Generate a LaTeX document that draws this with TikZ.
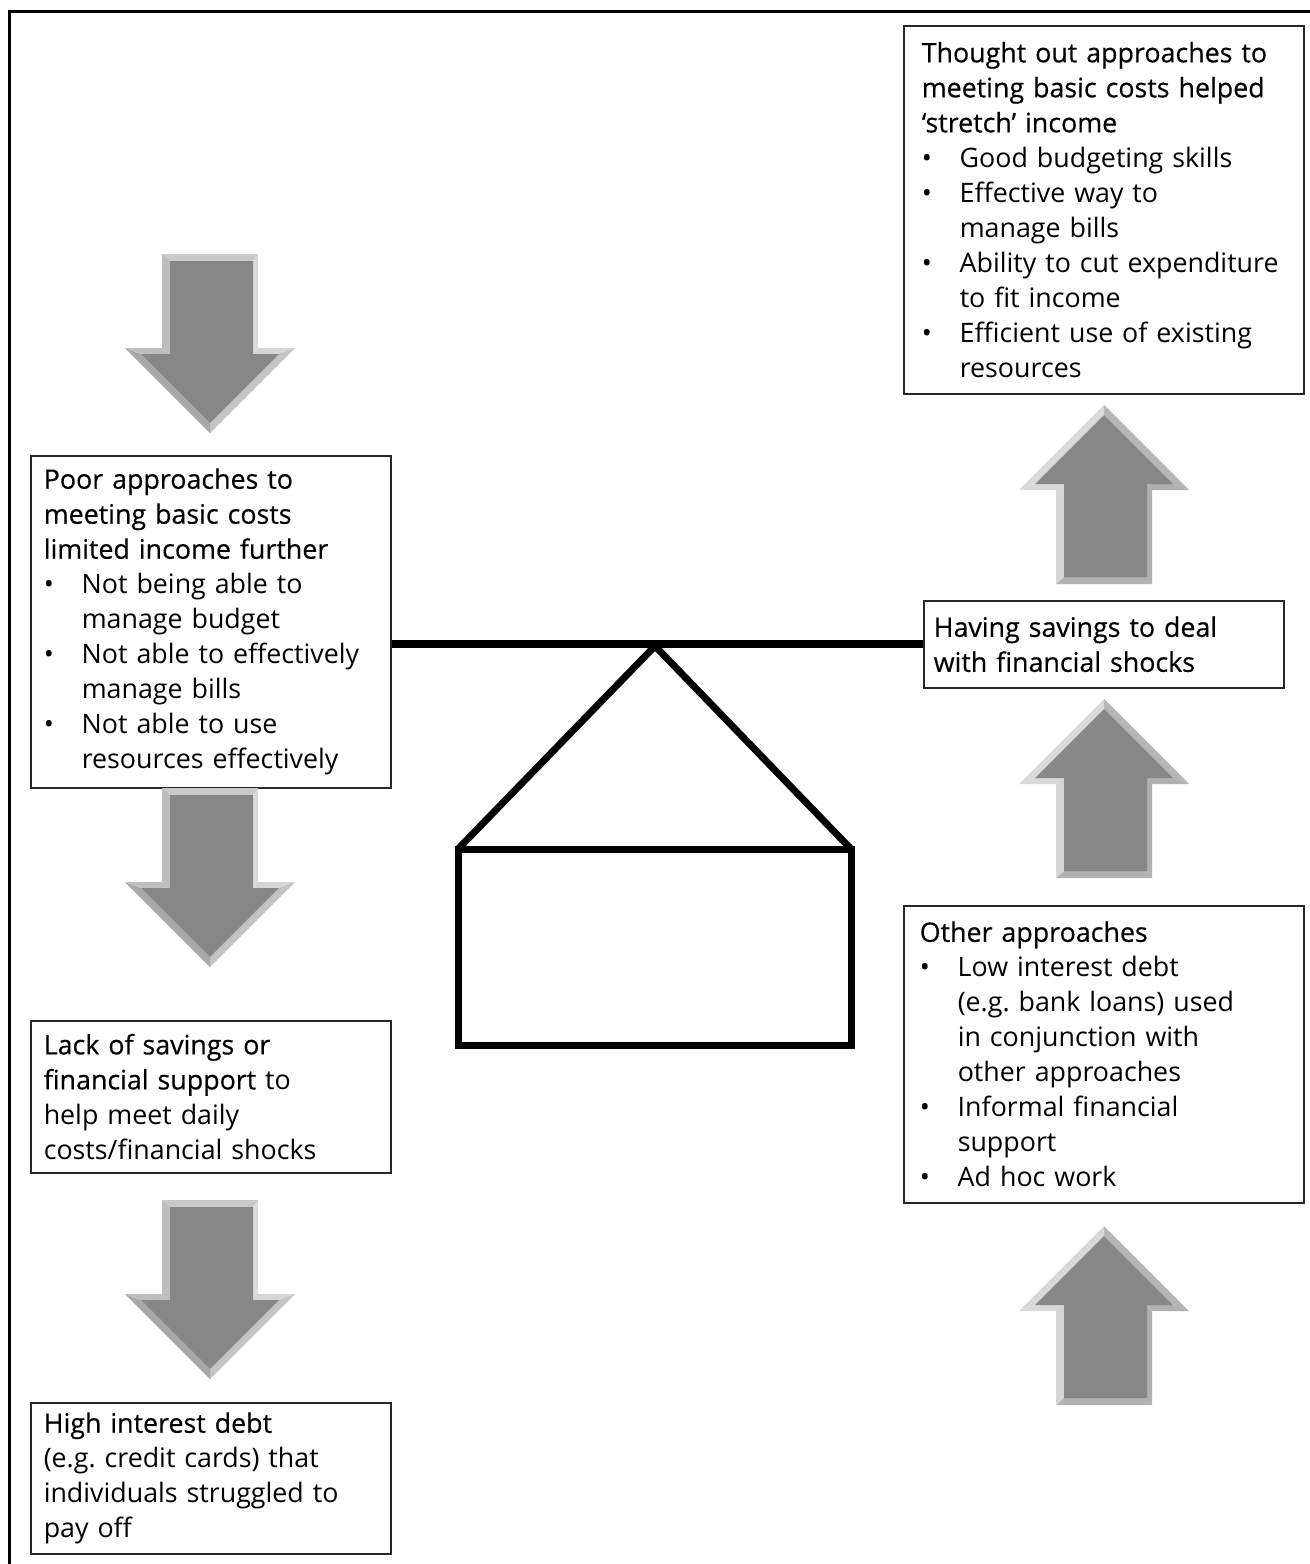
\documentclass[tikz,border=0pt]{standalone}
\usepackage{fontspec}
\setmainfont{Open Sans}
\newfontfamily\hdfont{Open Sans}[FakeBold=0.4]
\usepackage{tikz}
\frenchspacing
\definecolor{boxline}{RGB}{40,40,40}
\newcommand{\bul}{\rmfamily\makebox[19pt][l]{\textbullet}}
\newcommand{\ind}{\hspace*{19pt}}
% bevelled block arrow, origin at the middle of the shaft end
\newcommand{\arrowfacets}[8]{%
  \fill[#1] (-48,0) -- (48,0) -- (43,7) -- (-40,7) -- cycle;
  \fill[#2] (48,0) -- (48,94) -- (43,100) -- (43,7) -- cycle;
  \fill[#3] (48,94) -- (85,94) -- (69,100) -- (43,100) -- cycle;
  \fill[#4] (85,94) -- (0,179) -- (0,169) -- (69,100) -- cycle;
  \fill[#5] (0,179) -- (-85,94) -- (-69,100) -- (0,169) -- cycle;
  \fill[#6] (-85,94) -- (-48,94) -- (-40,100) -- (-69,100) -- cycle;
  \fill[#7] (-48,94) -- (-48,0) -- (-40,7) -- (-40,100) -- cycle;
  \fill[#8] (-40,7) -- (43,7) -- (43,100) -- (69,100) -- (0,169) -- (-69,100) -- (-40,100) -- cycle;
}
\tikzset{
  txtbox/.style={rectangle, draw=boxline, line width=0.75pt, anchor=north west,
    align=left, inner xsep=6.5pt, inner ysep=4pt, text width=167pt,
    font=\fontsize{13.4}{17.5}\selectfont},
  beam/.style={line width=4pt, color=black},
  house/.style={line width=3.5pt, color=black, miter limit=4},
  frameline/.style={line width=1.5pt, color=black},
  pics/downblock/.style={code={%
    \arrowfacets{black!21}{black!14}{black!16}{black!23}{black!34}{black!25}{black!26}{black!47}}},
  pics/upblock/.style={code={%
    \begin{scope}[yscale=-1]
    \arrowfacets{black!30}{black!31}{black!31}{black!29}{black!15}{black!15}{black!16}{black!47}
    \end{scope}}}
}
\begin{document}
\begin{tikzpicture}[x=0.5pt, y=-0.5pt]
  \useasboundingbox (0,0) rectangle (1310,1564);
  \fill[white] (0,0) rectangle (1310,1564);

  % outer frame (top and left only)
  \draw[frameline] (9,1564) -- (9,11) -- (1310,11);

  % left column
  \node[txtbox, minimum height=166pt] (poor) at (30,455)
    {\hdfont Poor approaches to\\meeting basic costs\\limited income further\\
     \bul Not being able to\\ \ind manage budget\\
     \bul Not able to effectively\\ \ind manage bills\\
     \bul Not able to use\\ \ind resources effectively};
  \node[txtbox, minimum height=76pt] (lack) at (30,1020)
    {{\hdfont Lack of savings or\\financial support} to\\help meet daily\\costs/financial shocks};
  \node[txtbox, minimum height=75.5pt] (debt) at (30,1402)
    {{\hdfont High interest debt}\\(e.g. credit cards) that\\individuals struggled to\\pay off};

  % right column
  \node[txtbox, inner xsep=9pt, text width=182pt, minimum height=184pt] (stretch) at (903,25)
    {\hdfont Thought out approaches to\\meeting basic costs helped\\‘stretch’ income\\
     \bul Good budgeting skills\\
     \bul Effective way to\\ \ind manage bills\\
     \bul Ability to cut expenditure\\ \ind to fit income\\
     \bul Efficient use of existing\\ \ind resources};
  \node[txtbox, inner xsep=5pt, text width=170pt, minimum height=43.5pt] (savings) at (923,600)
    {\hdfont Having savings to deal\\with financial shocks};
  \node[txtbox, inner xsep=8pt, text width=184pt, minimum height=148.5pt] (other) at (903,905)
    {\hdfont Other approaches\\
     \bul Low interest debt\\ \ind (e.g. bank loans) used\\ \ind in conjunction with\\ \ind other approaches\\
     \bul Informal financial\\ \ind support\\
     \bul Ad hoc work};

  % block arrows
  \pic at (210,254) {downblock};
  \pic at (210,788) {downblock};
  \pic at (210,1200) {downblock};
  \pic at (1104,584) {upblock};
  \pic at (1104,878) {upblock};
  \pic at (1104,1405) {upblock};

  % balance: beam and house
  \draw[beam] (savings.west) -- (savings.west -| poor.east);
  \coordinate (apex) at (655,646);
  \coordinate (eaveL) at (458,849);
  \coordinate (eaveR) at (851,849);
  \coordinate (baseR) at (851,1045);
  \draw[house] (eaveL) -- (apex) -- (eaveR);
  \draw[house] (eaveL) rectangle (baseR);
\end{tikzpicture}
\end{document}
